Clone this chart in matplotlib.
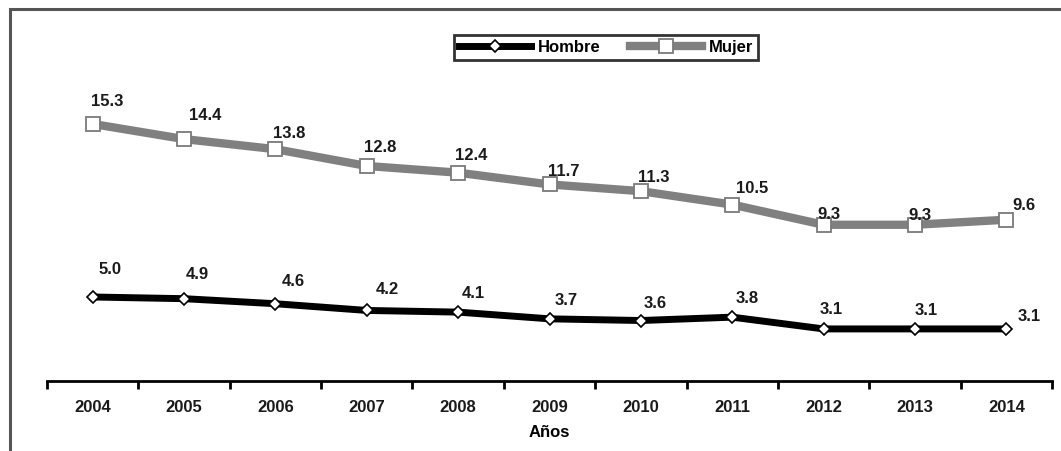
import matplotlib.pyplot as plt
from matplotlib.patches import Rectangle
from matplotlib.lines import Line2D

plt.rcParams['font.family'] = ['Liberation Sans Narrow', 'Liberation Sans', 'DejaVu Sans']
plt.rcParams['font.weight'] = 'bold'

years = ['2004', '2005', '2006', '2007', '2008', '2009', '2010', '2011', '2012', '2013', '2014']
hombre = [5.0, 4.9, 4.6, 4.2, 4.1, 3.7, 3.6, 3.8, 3.1, 3.1, 3.1]
mujer = [15.3, 14.4, 13.8, 12.8, 12.4, 11.7, 11.3, 10.5, 9.3, 9.3, 9.6]

# label offsets in pixels (dx, dy) from each marker
off_m = [(15, 23), (21, 25), (14, 17), (13, 19), (13, 18), (14, 14), (13, 15), (20, 17), (5, 11), (5, 10), (18, 15)]
off_h = [(17, 28), (13, 25), (18, 23), (21, 22), (15, 20), (17, 19), (14, 18), (15, 20), (8, 20), (11, 19), (23, 13)]

W, H = 1061, 452
PX = 72 / 100  # pixels -> points
fig = plt.figure(figsize=(W / 100, H / 100), dpi=100)

# outer frame (only top and left edges fall inside the image)
fig.patches.append(Rectangle((10 / W, -0.1), 1.2, (H - 10) / H + 0.1,
                             transform=fig.transFigure, fill=False,
                             edgecolor='#555555', linewidth=2.2))

ax = fig.add_axes([47 / W, (H - 382) / H, (1052 - 47) / W, 336 / H])
x = list(range(len(years)))

ax.plot(x, mujer, color='#808080', linewidth=6, marker='s', markersize=10,
        markerfacecolor='white', markeredgecolor='#7a7a7a', markeredgewidth=1.3,
        solid_joinstyle='miter', zorder=3)
ax.plot(x, hombre, color='black', linewidth=5, marker='D', markersize=6.5,
        markerfacecolor='white', markeredgecolor='black', markeredgewidth=1.2,
        solid_joinstyle='miter', zorder=3)

for xi, v, (dx, dy) in zip(x, mujer, off_m):
    ax.annotate(f'{v:.1f}', (xi, v), xytext=(dx * PX, dy * PX), textcoords='offset points',
                ha='center', va='center', fontsize=12, fontweight='bold', color='#1a1a1a')
for xi, v, (dx, dy) in zip(x, hombre, off_h):
    ax.annotate(f'{v:.1f}', (xi, v), xytext=(dx * PX, dy * PX), textcoords='offset points',
                ha='center', va='center', fontsize=12, fontweight='bold', color='#1a1a1a')

ax.set_xlim(-0.5, len(years) - 0.5)
ax.set_ylim(0, 20)
for s in ['top', 'right', 'left']:
    ax.spines[s].set_visible(False)
ax.spines['bottom'].set_linewidth(2)
ax.set_yticks([])

# ticks sit on category boundaries, labels at centres
ax.set_xticks([i - 0.5 for i in range(len(years) + 1)])
ax.set_xticklabels([])
ax.set_xticks(x, minor=True)
ax.set_xticklabels(years, minor=True, fontsize=12, fontweight='bold', color='#1a1a1a')
ax.tick_params(axis='x', which='major', direction='out', length=6, width=2)
ax.tick_params(axis='x', which='minor', length=0, pad=13)
ax.set_xlabel('Años', fontsize=12, fontweight='bold', labelpad=7)

handles = [
    Line2D([], [], color='black', linewidth=5, marker='D', markersize=6.5,
           markerfacecolor='white', markeredgecolor='black', markeredgewidth=1.2),
    Line2D([], [], color='#808080', linewidth=6, marker='s', markersize=10,
           markerfacecolor='white', markeredgecolor='#7a7a7a', markeredgewidth=1.3),
]
leg = fig.legend(handles, ['Hombre', 'Mujer'], loc='center', bbox_to_anchor=(606 / W, 1 - 48 / H),
                 ncol=2, frameon=True, fancybox=False, handlelength=4.3,
                 columnspacing=1.8, borderpad=0.3, handletextpad=0.4,
                 prop={'weight': 'bold', 'size': 12})
leg.get_frame().set_edgecolor('black')
leg.get_frame().set_linewidth(2)

fig.savefig('out.png', dpi=100)
